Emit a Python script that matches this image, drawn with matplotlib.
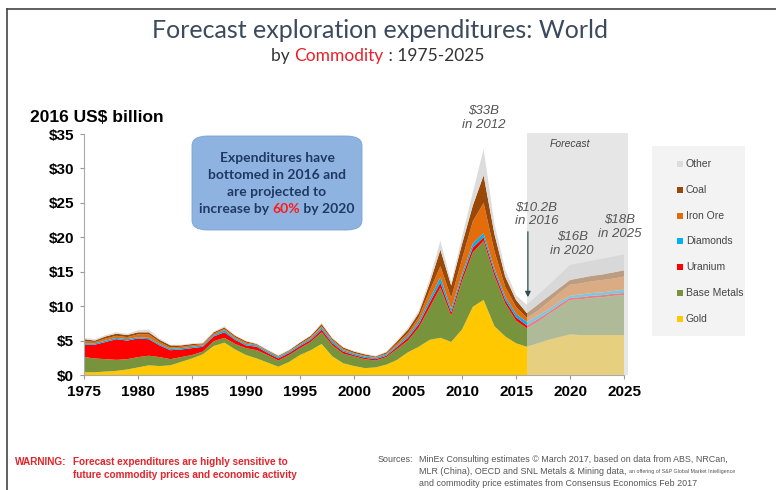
import matplotlib
matplotlib.use("Agg")
import matplotlib.pyplot as plt
from matplotlib.patches import FancyBboxPatch, Rectangle
from matplotlib.lines import Line2D
import numpy as np

# exploration spend by commodity, 2016 US$ billion
years = list(range(1975, 2026))
gold = [0.4, 0.4, 0.5, 0.6, 0.8, 1.1, 1.4, 1.3, 1.4, 1.9,
        2.4, 3.0, 4.2, 4.7, 3.7, 2.9, 2.4, 1.8, 1.2, 1.9,
        2.9, 3.6, 4.5, 2.7, 1.7, 1.3, 1.0, 1.1, 1.5, 2.2,
        3.3, 4.1, 5.1, 5.4, 4.8, 6.6, 9.9, 10.9, 7.1, 5.6,
        4.6, 4.1, 4.6, 5.1, 5.5, 5.9, 5.8, 5.8, 5.8, 5.8, 5.8]
base_metals = [2.2, 2.0, 1.8, 1.6, 1.5, 1.5, 1.4, 1.3, 0.9, 0.7,
               0.5, 0.4, 0.7, 0.7, 0.8, 1.0, 1.2, 1.1, 0.9, 1.0,
               1.0, 1.2, 1.7, 1.6, 1.4, 1.4, 1.3, 1.0, 1.1, 1.6,
               1.7, 2.8, 4.7, 7.3, 3.8, 7.0, 7.9, 8.6, 7.3, 4.8,
               3.3, 2.7, 3.1, 3.7, 4.3, 5.0, 5.2, 5.4, 5.5, 5.7, 5.8]
uranium = [1.8, 2.0, 2.5, 3.0, 2.7, 2.7, 2.4, 1.7, 1.3, 1.1,
           1.0, 0.7, 0.7, 0.8, 0.6, 0.4, 0.5, 0.3, 0.3, 0.3,
           0.3, 0.3, 0.4, 0.3, 0.3, 0.2, 0.2, 0.2, 0.2, 0.3,
           0.4, 0.5, 0.7, 0.7, 0.5, 0.6, 0.7, 0.5, 0.6, 0.5,
           0.5, 0.4, 0.4, 0.3, 0.4, 0.3, 0.3, 0.3, 0.3, 0.3, 0.3]
diamonds = [0.2, 0.2, 0.2, 0.2, 0.2, 0.2, 0.2, 0.2, 0.2, 0.2,
            0.2, 0.2, 0.2, 0.3, 0.2, 0.2, 0.2, 0.2, 0.2, 0.2,
            0.2, 0.2, 0.3, 0.3, 0.2, 0.2, 0.2, 0.2, 0.2, 0.2,
            0.3, 0.4, 0.5, 0.8, 0.5, 0.5, 0.6, 0.6, 0.5, 0.5,
            0.5, 0.5, 0.5, 0.4, 0.4, 0.3, 0.4, 0.4, 0.4, 0.4, 0.5]
iron_ore = [0.3, 0.2, 0.3, 0.3, 0.3, 0.4, 0.5, 0.3, 0.2, 0.2,
            0.2, 0.2, 0.2, 0.2, 0.2, 0.2, 0.1, 0.1, 0.1, 0.1,
            0.1, 0.2, 0.2, 0.2, 0.2, 0.1, 0.1, 0.1, 0.1, 0.3,
            0.4, 0.6, 1.2, 1.6, 1.6, 2.1, 3.2, 4.4, 2.5, 1.4,
            1.0, 0.6, 0.7, 1.1, 1.3, 1.6, 1.6, 1.7, 1.8, 1.8, 1.9]
coal = [0.3, 0.2, 0.3, 0.3, 0.3, 0.3, 0.3, 0.3, 0.3, 0.2,
        0.2, 0.1, 0.2, 0.2, 0.2, 0.2, 0.1, 0.1, 0.1, 0.1,
        0.2, 0.2, 0.3, 0.2, 0.2, 0.2, 0.2, 0.1, 0.2, 0.3,
        0.5, 0.6, 1.1, 2.4, 1.8, 2.2, 2.3, 4.0, 2.5, 1.5,
        1.0, 0.7, 0.9, 0.8, 0.7, 0.7, 0.8, 0.8, 0.8, 0.9, 0.9]
other = [0.2, 0.2, 0.2, 0.2, 0.2, 0.3, 0.4, 0.2, 0.1, 0.1,
         0.1, 0.1, 0.1, 0.2, 0.1, 0.1, 0.1, 0.1, 0.1, 0.1,
         0.1, 0.1, 0.2, 0.1, 0.1, 0.1, 0.1, 0.1, 0.1, 0.2,
         0.3, 0.4, 0.6, 1.3, 0.5, 1.0, 1.9, 3.8, 1.5, 1.0,
         0.7, 1.2, 1.4, 1.6, 1.9, 2.2, 2.2, 2.2, 2.3, 2.3, 2.3]

series = [gold, base_metals, uranium, diamonds, iron_ore, coal, other]
names = ["Gold", "Base Metals", "Uranium", "Diamonds", "Iron Ore", "Coal", "Other"]
colors = ["#FFC800", "#77933C", "#FF0000", "#00B0F0", "#E46C0A", "#984807", "#DCDCDC"]

y_ticks = [0, 5, 10, 15, 20, 25, 30, 35]
x_ticks = [1975, 1980, 1985, 1990, 1995, 2000, 2005, 2010, 2015, 2020, 2025]
forecast_start = 2016

W, H = 776, 490
def fx(x): return x / W
def fy(y): return 1 - y / H

fig = plt.figure(figsize=(7.76, 4.90), dpi=100)
fig.patch.set_facecolor("white")

# slide frame
fig.add_artist(Line2D([fx(7), fx(7)], [fy(9), fy(490)], color="#444444", lw=1.2))
fig.add_artist(Line2D([fx(7), fx(776)], [fy(9), fy(9)], color="#444444", lw=1.2))

ax = fig.add_axes([fx(84), fy(375), (624 - 84) / W, (375 - 134) / H])
ax.stackplot(years, *series, colors=colors, lw=0)

# forecast wash
ax.add_patch(Rectangle((forecast_start, 0), 2025.4 - forecast_start, 35.2,
                       facecolor="#d6d6d6", alpha=0.6, lw=0, zorder=3, clip_on=False))
ax.text(2020.0, 33.5, "Forecast", style="italic", fontsize=7.5, color="#444444",
        ha="center", va="center", family="Liberation Sans", zorder=5)

ax.set_xlim(1975, 2025)
ax.set_ylim(0, 35)
ax.set_xticks(x_ticks)
ax.set_yticks(y_ticks)
ax.set_yticklabels([f"${v}" for v in y_ticks])
for lab in ax.get_xticklabels() + ax.get_yticklabels():
    lab.set_fontweight("bold")
    lab.set_fontsize(11)
    lab.set_family("Liberation Sans")
ax.tick_params(axis="both", length=3, color="#999999", pad=4)
for s in ["top", "right"]:
    ax.spines[s].set_visible(False)
for s in ["left", "bottom"]:
    ax.spines[s].set_color("#aaaaaa")
    ax.spines[s].set_linewidth(0.8)
ax.set_facecolor("none")

# annotations
note = dict(style="italic", fontsize=9.5, color="#555555", ha="center",
            va="center", family="Liberation Sans", zorder=6, linespacing=1.15)
ax.text(2012, 37.3, "$33B\nin 2012", **note)
ax.text(2016.9, 23.3, "$10.2B\nin 2016", **note)
ax.text(2020.2, 19.0, "$16B\nin 2020", **note)
ax.text(2024.6, 21.5, "$18B\nin 2025", **note)
ax.annotate("", xy=(2016.1, 10.9), xytext=(2016.1, 21.2),
            arrowprops=dict(arrowstyle="-|>", color="#2f4f4f", lw=0.9,
                            mutation_scale=8), zorder=6)

fig.text(fx(30), fy(118), "2016 US$ billion", fontsize=12.5, fontweight="bold",
         family="Liberation Sans", va="center", ha="left")

# titles
fig.text(fx(380), fy(30), "Forecast exploration expenditures: World", fontsize=18,
         color="#3b4a5c", ha="center", va="center", family="Lato")
t1 = fig.text(fx(271), fy(56), "by ", fontsize=12.5, color="#333333",
              va="center", ha="left", family="Lato")
t2 = fig.text(0, 0, "Commodity", fontsize=12.5, color="#e8202a", family="Lato")
t3 = fig.text(0, 0, " : 1975-2025", fontsize=12.5, color="#333333", family="Lato")
fig.canvas.draw()
r = fig.canvas.get_renderer()
def follow(prev, cur):
    bb = prev.get_window_extent(r)
    cur.set_position((bb.x1 / fig.bbox.width, prev.get_position()[1]))
    cur.set_va(prev.get_va())
follow(t1, t2)
follow(t2, t3)

# blue call-out box
box = FancyBboxPatch((fx(192), fy(230)), fx(362) - fx(192), fy(136) - fy(230),
                     boxstyle="round,pad=0,rounding_size=0.02",
                     transform=fig.transFigure, facecolor="#8fb3e0",
                     edgecolor="#7aa2d6", lw=0.6, zorder=1)
fig.add_artist(box)
bx = dict(fontsize=10, fontweight="bold", color="#1f3864", ha="center",
          va="center", family="Lato")
fig.text(fx(277), fy(158), "Expenditures have", **bx)
fig.text(fx(277), fy(175), "bottomed in 2016 and", **bx)
fig.text(fx(277), fy(192), "are projected to", **bx)
parts = [("increase by ", "#1f3864"), ("60%", "#ff1a1a"), (" by 2020", "#1f3864")]
pieces = [fig.text(0, fy(209), p, fontsize=10, fontweight="bold", color=c,
                   va="center", ha="left", family="Lato") for p, c in parts]
fig.canvas.draw()
widths = [p.get_window_extent(r).width for p in pieces]
x0 = fx(277) * fig.bbox.width - sum(widths) / 2
for p, w in zip(pieces, widths):
    p.set_x(x0 / fig.bbox.width)
    x0 += w

# legend panel
fig.add_artist(Rectangle((fx(652), fy(336)), fx(745) - fx(652), fy(146) - fy(336),
                         transform=fig.transFigure, facecolor="#f3f3f3", lw=0))
for i, (n, c) in enumerate(zip(names[::-1], colors[::-1])):
    yy = 164 + i * 25.8
    fig.add_artist(Rectangle((fx(677), fy(yy + 3)), fx(6), 6 / H,
                             transform=fig.transFigure, facecolor=c, lw=0))
    fig.text(fx(686), fy(yy), n, fontsize=7.5, color="#444444", va="center",
             ha="left", family="Liberation Sans")

# footer
warn = dict(fontsize=7.2, fontweight="bold", color="#e3242b", family="Liberation Sans",
            va="center", ha="left")
fig.text(fx(15), fy(462), "WARNING:", **warn)
fig.text(fx(73), fy(462), "Forecast expenditures are highly sensitive to", **warn)
fig.text(fx(73), fy(475), "future commodity prices and economic activity", **warn)

src = dict(fontsize=6.4, color="#555555", family="Liberation Sans", va="center", ha="left")
fig.text(fx(378), fy(459), "Sources:", **src)
fig.text(fx(419), fy(459), "MinEx Consulting estimates \u00a9 March 2017, based on data from ABS, NRCan,", **src)
m = fig.text(fx(419), fy(471), "MLR (China), OECD and SNL Metals & Mining data, ", **src)
fig.text(fx(419), fy(483), "and commodity price estimates from Consensus Economics Feb 2017", **src)
fig.canvas.draw()
bb = m.get_window_extent(r)
fig.text(bb.x1 / fig.bbox.width, fy(471), "an offering of S&P Global Market Intelligence",
         fontsize=3.8, color="#555555", family="Liberation Sans", va="center", ha="left")

fig.savefig("out.png", dpi=100)
